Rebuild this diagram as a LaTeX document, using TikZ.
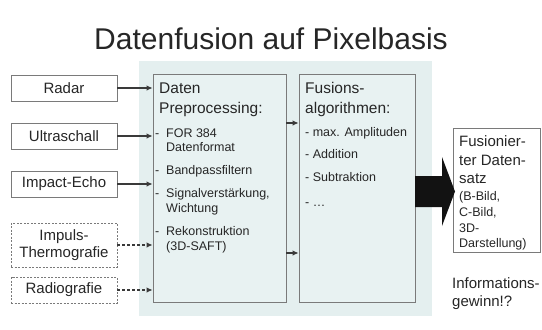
\documentclass[tikz,border=0pt]{standalone}
\usepackage{fontspec}
\setmainfont{Liberation Sans}
\usetikzlibrary{arrows.meta}
\definecolor{panel}{HTML}{E4EFEF}
\definecolor{boxfill}{HTML}{E8F2F2}
\definecolor{edge}{HTML}{7A7A7A}
\definecolor{ink}{HTML}{262626}
\definecolor{conncol}{HTML}{3A3A3A}
\newcommand{\dashitem}{\makebox[11pt][l]{-}}
\begin{document}
\begin{tikzpicture}[x=1pt,y=-1pt,
  srcbox/.style={draw=edge, line width=0.8pt, fill=white, minimum width=106pt, inner sep=0pt, align=center, text=ink, font=\fontsize{15}{17.5}\selectfont},
  dashbox/.style={srcbox, dash pattern=on 2pt off 1.5pt},
  procbox/.style={draw=edge, line width=0.8pt, fill=boxfill, inner sep=0pt},
  conn/.style={draw=conncol, line width=1.1pt, -{Latex[length=6pt,width=5.5pt]}},
  dconn/.style={conn, dash pattern=on 3pt off 2pt},
  head/.style={anchor=base west, inner sep=0pt, text=ink, font=\fontsize{15.5}{18}\selectfont},
  item/.style={anchor=base west, inner sep=0pt, text=ink, font=\fontsize{12.5}{15}\selectfont},
  big/.style={anchor=base west, inner sep=0pt, text=ink, font=\fontsize{15}{18}\selectfont},
]
\useasboundingbox (0,0) rectangle (542,330);
\fill[white] (0,0) rectangle (542,330);

% title
\node[anchor=base, inner sep=0pt, text=ink, font=\fontsize{30}{34}\selectfont] (title) at (271,49) {Datenfusion auf Pixelbasis};

% background panel
\fill[panel] (139,61) rectangle (432,316);

% source boxes
\node[srcbox, minimum height=26pt] (radar) at (64,88) {Radar};
\node[srcbox, minimum height=26pt] (ultra) at (64,136) {Ultraschall};
\node[srcbox, minimum height=26pt] (impact) at (64,184) {Impact-Echo};
\node[dashbox, minimum height=44pt] (thermo) at (64,245) {Impuls-\\Thermografie};
\node[dashbox, minimum height=26pt] (radio) at (64,290) {Radiografie};

% processing boxes
\node[procbox, minimum width=133pt, minimum height=228pt] (pre) at (219.5,188) {};
\node[procbox, minimum width=116pt, minimum height=228pt] (fus) at (357,188) {};
\node[draw=edge, line width=0.8pt, fill=white, minimum width=87pt, minimum height=124pt, inner sep=0pt] (res) at (497.2,190) {};

% arrows into preprocessing
\draw[conn] (radar.east) -- (radar.east -| pre.west);
\draw[conn] (ultra.east) -- (ultra.east -| pre.west);
\draw[conn] (impact.east) -- (impact.east -| pre.west);
\draw[dconn] (thermo.east) -- (thermo.east -| pre.west);
\draw[dconn] (radio.east) -- (radio.east -| pre.west);

% arrows preprocessing -> fusion
\coordinate (ya) at (0,123);
\coordinate (yb) at (0,253);
\draw[conn] (pre.east |- ya) -- (fus.west |- ya);
\draw[conn] (pre.east |- yb) -- (fus.west |- yb);

% big arrow
\fill[black!93] (415,176) -- (442,176) -- (442,157) -- (455,191.5) -- (442,226) -- (442,207) -- (415,207) -- cycle;

% preprocessing text
\node[head] (p1) at (159,93.5) {Daten};
\node[head] (p2) at (159,113.5) {Preprocessing:};
\node[item] (p3) at (155,137.5) {\dashitem FOR 384};
\node[item] (p4) at (166,151.5) {Datenformat};
\node[item] (p5) at (155,174.5) {\dashitem Bandpassfiltern};
\node[item] (p6) at (155,197.5) {\dashitem Signalverstärkung,};
\node[item] (p7) at (166,212.5) {Wichtung};
\node[item] (p8) at (155,235.5) {\dashitem Rekonstruktion};
\node[item] (p9) at (166,250.5) {(3D-SAFT)};

% fusion text
\node[head] (f1) at (305,93.5) {Fusions-};
\node[head] (f2) at (305,113.5) {algorithmen:};
\node[item] (f3) at (305,136.5) {- max. Amplituden};
\node[item] (f4) at (305,158.5) {- Addition};
\node[item] (f5) at (305,181.5) {- Subtraktion};
\node[item] (f6) at (305,206.5) {- \dots};

% result text
\node[big] (r1) at (459,146.5) {Fusionier-};
\node[big] (r2) at (459,165) {ter Daten-};
\node[big] (r3) at (459,183) {satz};
\node[item] (r4) at (459,200.5) {(B-Bild,};
\node[item] (r5) at (459,216.5) {C-Bild,};
\node[item] (r6) at (459,232.5) {3D-};
\node[item] (r7) at (459,247.5) {Darstellung)};

% information gain
\node[big] (i1) at (452,288.5) {Informations-};
\node[big] (i2) at (452,306.5) {gewinn!?};
\end{tikzpicture}
\end{document}
